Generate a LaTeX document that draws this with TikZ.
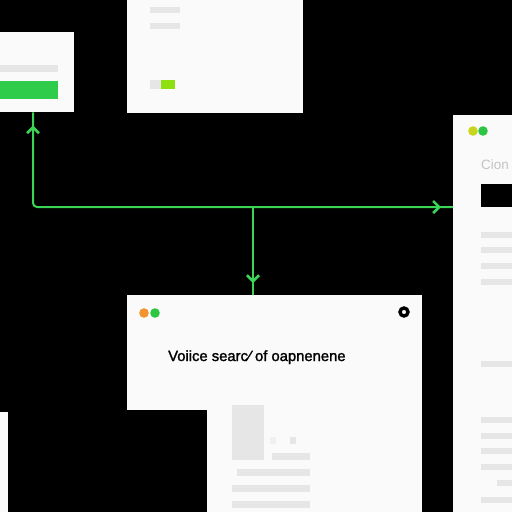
\documentclass[tikz,border=0pt]{standalone}
\usepackage{fontspec}
\setmainfont{Liberation Sans}
\newfontfamily\titlefont[FakeBold=1.6]{Liberation Sans}
\usetikzlibrary{arrows.meta,decorations.markings,calc}
\definecolor{flowgreen}{HTML}{3AD457}
\definecolor{bargreen}{HTML}{2FCB4B}
\definecolor{limegreen}{HTML}{8EE010}
\definecolor{dotyellow}{HTML}{C9D41C}
\definecolor{dotgreen}{HTML}{2DC644}
\definecolor{dotorange}{HTML}{F29330}
\definecolor{barGray}{HTML}{E6E6E6}
\definecolor{panelwhite}{HTML}{FAFAFA}
\definecolor{textgray}{HTML}{C4C4C4}
\tikzset{
  panel/.style={fill=panelwhite, draw=none, inner sep=0pt, anchor=north west},
  bar/.style={fill=barGray},
  flow/.style={draw=flowgreen, line width=2pt},
  tipend/.style={postaction={decorate, decoration={markings,
      mark=at position -12pt with {\arrow[flowgreen, line width=2.6pt, line join=round, line cap=round]{Straight Barb[length=6pt,width=12pt]}}}}},
  tipstart/.style={postaction={decorate, decoration={markings,
      mark=at position 13pt with {\arrowreversed[flowgreen, line width=2.6pt, line join=round, line cap=round]{Straight Barb[length=6pt,width=12pt]}}}}},
}
\begin{document}
\begin{tikzpicture}[x=1pt,y=-1pt]
\useasboundingbox (0,0) rectangle (512,512);
\fill[black] (0,0) rectangle (512,512);
\clip (0,0) rectangle (512,512);

% panels
\node[panel, minimum width=74pt, minimum height=80pt] (tl) at (0,32) {};
\node[panel, minimum width=176pt, minimum height=118pt] (tm) at (127,-5) {};
\node[panel, minimum width=70pt, minimum height=400pt] (rb) at (453,115) {};
\node[panel, minimum width=295pt, minimum height=115pt] (dlg) at (127,295) {};
\node[panel, minimum width=215pt, minimum height=110pt] (lp) at (207,405) {};
\node[panel, minimum width=8pt, minimum height=100pt] (ls) at (0,412) {};

% top-left panel content
\fill[bar] (0,65) rectangle (58,72);
\fill[bargreen] (0,81) rectangle (58,99);

% top-middle panel content
\fill[bar] (150,7) rectangle (180,13);
\fill[bar] (150,23) rectangle (180,29);
\fill[bar] (150,80) rectangle (161,89);
\fill[limegreen] (161,80) rectangle (175,89);

% right panel content
\fill[dotyellow] (473,131) circle (4.8);
\fill[dotgreen] (483,131) circle (4.8);
\node[anchor=base west, inner sep=0pt, text=textgray, font=\fontsize{13.5}{15}\selectfont] (cion) at (481,169) {Cion};
\fill[black] (481,184) rectangle (512,207);
\foreach \y in {232,247,263,279,361,417,433,448,464,497}
  \fill[bar] (481,\y) rectangle (512,\y+6);
\fill[bar] (497,480) rectangle (512,486);

% dialog content
\fill[dotorange] (144,313) circle (4.8);
\fill[dotgreen] (155,313) circle (4.8);
\draw[black, line width=3.4pt] (404,312) circle (4);
\node[anchor=base west, inner sep=0pt, font=\titlefont\fontsize{14.8}{16}\selectfont] (title) at (168,361) {Voiice searc\kern0.6pt⁄\kern4pt of oapnenene};

% lower panel content
\fill[bar] (232,405) rectangle (264,460);
\fill[barGray!60] (270,437) rectangle (276,444);
\fill[bar] (290,437) rectangle (296,444);
\fill[bar] (272,453) rectangle (310,460);
\fill[bar] (237,469) rectangle (310,476);
\fill[bar] (232,485) rectangle (310,492);
\fill[bar] (232,501) rectangle (310,508);

% connectors
\coordinate (c) at (33,207);
\coordinate (j) at (253,207);
\draw[flow, rounded corners=4pt, tipstart, tipend] (c |- tl.south) -- (c) -- (rb.west |- c);
\draw[flow, tipend] (j) -- (j |- dlg.north);
\end{tikzpicture}
\end{document}
